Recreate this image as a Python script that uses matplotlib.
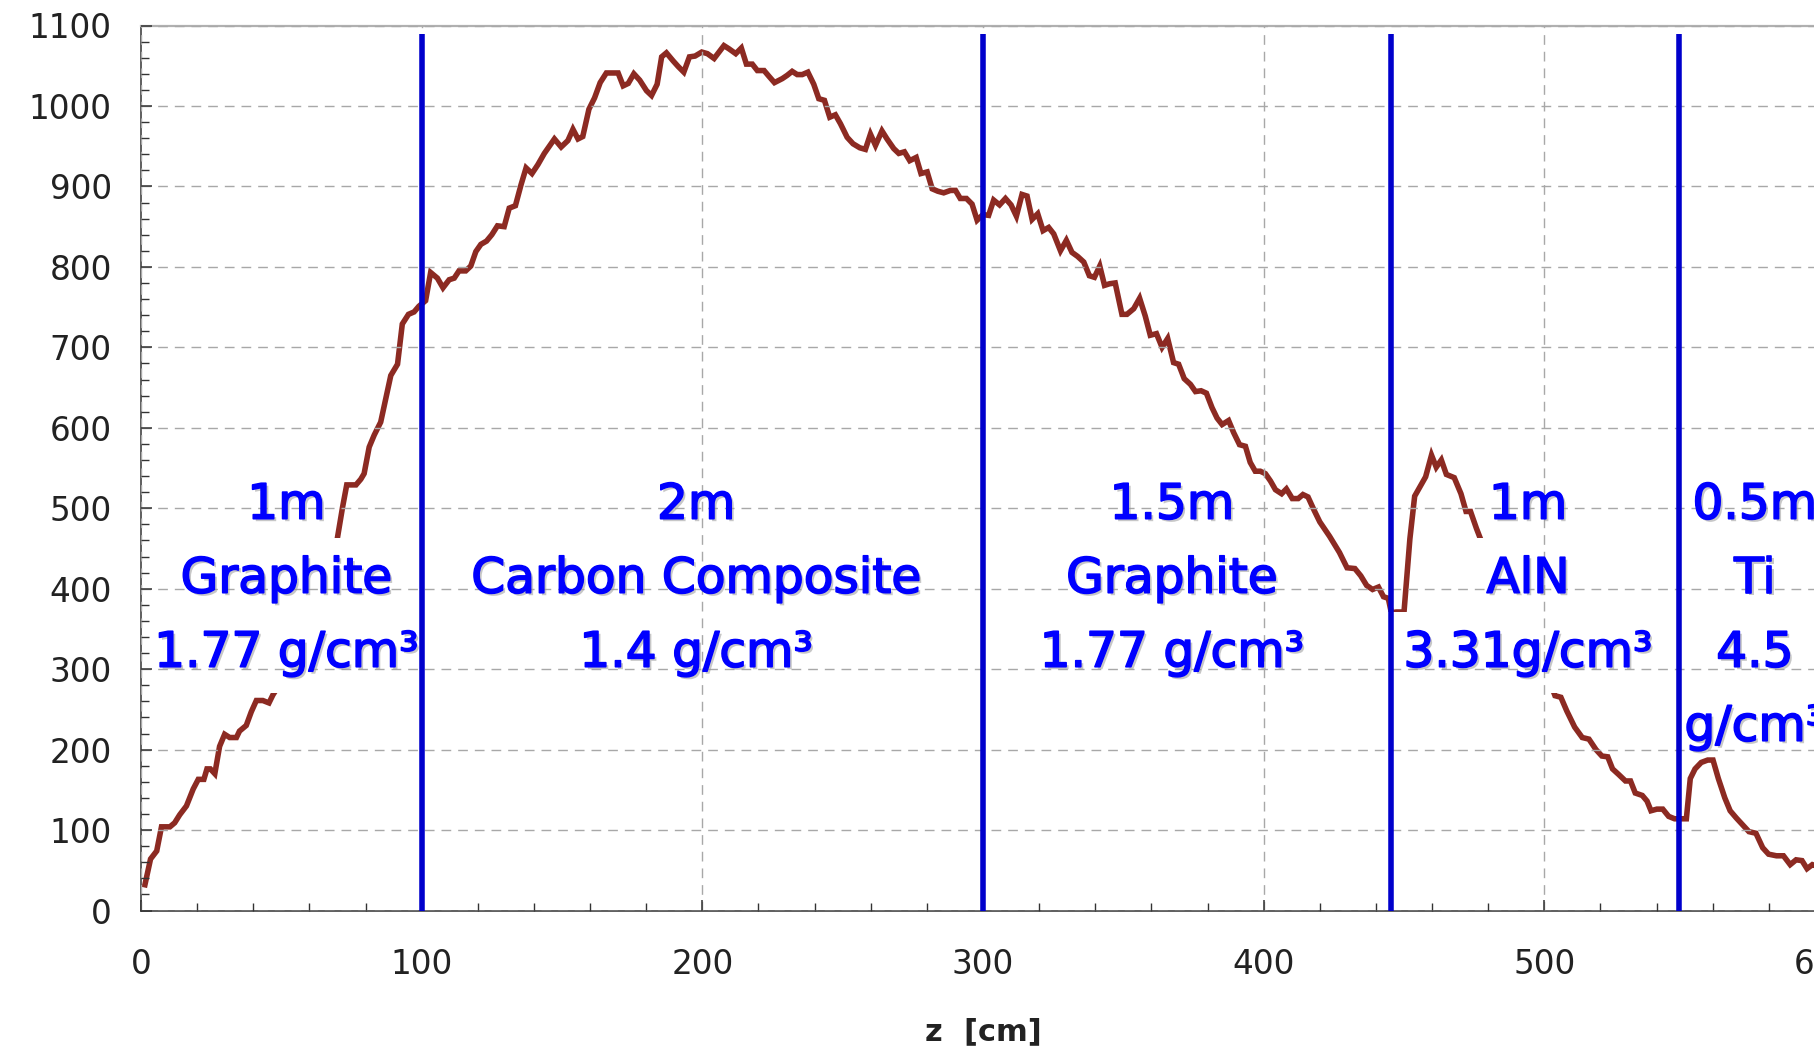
import matplotlib
matplotlib.use('Agg')
import matplotlib.pyplot as plt
from matplotlib.ticker import MultipleLocator
import matplotlib.patheffects as pe

# ---------------- data ----------------
z_cm = [1.4, 3.4, 5.6, 7.3, 10.3, 12, 13.8, 16.2, 18.6, 20.4, 22.4, 23.5, 24.7, 26.3, 28, 29.8,
        31.6, 34, 35.1, 37.5, 39.3, 41.1, 43.4, 45.6, 47, 48.8, 52, 56, 60, 64, 67, 69.5, 71.8,
        73.3, 76.6, 78.3, 79.5, 81.3, 83.1, 85.4, 87.2, 89, 91.4, 93.1, 95.3, 97.3, 99,
        101.4, 103.2, 105.6, 107.6, 109.8, 111.6, 113.3, 115.7, 117.5, 119.3, 121.1, 123.1, 125,
        127, 129.4, 131.2, 133.4, 135.4, 137.2, 139.3, 141.4, 143.7, 147.3, 149.7, 152.1, 153.9,
        155.7, 157.4, 159.6, 161.6, 163.6, 165.8, 168.2, 170, 171.8, 173.6, 175.6, 177.7, 180.1,
        181.9, 183.9, 185.5, 187.2, 189.6, 191.4, 193.4, 195.4, 197.4, 199.8,
        201.8, 204.2, 207.7, 209.5, 211.9, 213.9, 215.7, 217.8, 219.6, 222, 223.7, 225.7, 228.5,
        230.2, 232, 233.8, 235.6, 237.6, 239.7, 241.5, 243.5, 245.4, 247.4, 249.2, 251.6, 253.7,
        256.1, 258.1, 259.9, 261.7, 264, 265.8, 268.2, 270, 272, 273.9, 276.2, 277.9, 280.1,
        281.9, 283.9, 286, 288.4, 290.2, 291.9, 294.1, 296.1, 297.9, 300,
        302, 303.8, 305.9, 308, 310, 311.9, 313.9, 315.7, 317.5, 319.5, 321.4, 323.4, 325.2,
        327.6, 329.7, 331.7, 333.7, 335.9, 337.9, 339.7, 341.6, 343.3, 345.1, 347.1, 349.5,
        351.3, 353.7, 355.8, 357.8, 359.6, 361.8, 363.8, 365.8, 367.9, 369.7, 371.7, 373.9,
        375.7, 377.7, 379.6, 381.6, 383.4, 385.2, 387.5, 389.3, 391.4, 393.5, 395.2, 397,
        398.8, 400.6, 402.4, 404.2, 406.4, 408.1, 410.2, 412.3, 414, 415.8, 417.9, 420, 423.5,
        427, 429.7, 432.5, 434.6, 436.7, 438.8, 440.9, 442.7, 444.4, 445.5, 447.2, 450,
        452.1, 453.8, 455.6, 457.7, 459.8, 461.5, 463.3, 465.1, 467.9, 470.3, 472.1, 473.7,
        475.8, 477.9, 480.4, 485, 490, 495, 499, 502.4, 503.8, 505.9, 508, 510.8, 513.5, 515.9,
        518.4, 520.5, 522.6, 524.3, 526.5, 528.9, 530.7, 532.4, 534.9, 536.6, 538, 540.1, 542.2,
        544.3, 546.4, 548.5, 550.6, 552, 553.7, 555.9, 558.2, 560.1, 562, 564.3, 566.2, 568.4,
        570.8, 572.9, 575.4, 577.8, 579.9, 582.7, 585.2, 587.6, 589.7, 591.8, 593.6, 595.5, 598]
dose = [32, 64, 74, 104, 104, 109, 119, 130, 151, 163, 163, 176, 176, 170, 204, 219,
        215, 215, 223, 230, 247, 261, 261, 258, 268, 278, 300, 335, 372, 410, 440, 453, 501,
        529, 529, 536, 543, 576, 591, 607, 636, 665, 679, 729, 741, 744, 751,
        758, 793, 786, 774, 784, 786, 795, 795, 801, 819, 828, 832, 840,
        851, 850, 873, 876, 902, 923, 916, 927, 941, 959, 949, 957, 971,
        959, 962, 996, 1010, 1029, 1041, 1041, 1041, 1025, 1028, 1040, 1032, 1019,
        1013, 1027, 1061, 1066, 1056, 1049, 1042, 1061, 1062, 1067,
        1065, 1059, 1075, 1071, 1065, 1072, 1052, 1052, 1044, 1044, 1037, 1029, 1034,
        1038, 1043, 1039, 1039, 1042, 1027, 1009, 1007, 986, 989, 978, 961, 953,
        948, 946, 965, 951, 969, 959, 947, 941, 943, 932, 936, 916, 918,
        897, 894, 892, 895, 895, 885, 885, 878, 858, 865,
        864, 883, 877, 885, 877, 863, 890, 888, 859, 866, 845, 849, 841,
        820, 833, 818, 813, 806, 789, 787, 801, 777, 779, 780, 741,
        741, 748, 761, 739, 715, 717, 700, 711, 681, 679, 661, 654,
        645, 646, 643, 625, 612, 604, 609, 594, 579, 577, 557, 546,
        546, 543, 534, 523, 518, 524, 512, 512, 517, 514, 498, 483, 465,
        445, 426, 425, 416, 404, 399, 402, 390, 388, 370, 371, 371,
        462, 515, 526, 539, 566, 551, 560, 542, 538, 518, 496, 496,
        475, 456, 451, 420, 385, 345, 305, 280, 267, 265, 248, 228, 215, 213,
        200, 192, 191, 176, 169, 161, 161, 146, 143, 136, 124, 126, 126,
        117, 114, 114, 114, 164, 176, 184, 187, 187, 164, 140, 124, 115,
        106, 98, 96, 78, 70, 68, 68, 57, 63, 62, 52, 57, 54]

boundaries = [100, 300, 445.5, 548]
x_ticks = [0, 100, 200, 300, 400, 500, 600]
y_ticks = [0, 100, 200, 300, 400, 500, 600, 700, 800, 900, 1000, 1100]

region_x = [51.8, 197.8, 367.3, 494.2, 575]
region_lines = [
    ['1m', 'Graphite', '1.77 g/cm³'],
    ['2m', 'Carbon Composite', '1.4 g/cm³'],
    ['1.5m', 'Graphite', '1.77 g/cm³'],
    ['1m', 'AlN', '3.31g/cm³'],
    ['0.5m', 'Ti', '4.5', 'g/cm³'],
]
region_mask = [True, False, False, True, False]   # blocks whose lower lines hide the curve
line_baselines = [487, 395, 303, 211]

# ---------------- figure ----------------
W, H = 1814, 1051
fig = plt.figure(figsize=(W / 100, H / 100), dpi=100)
ax = fig.add_axes([141 / W, (H - 910.5) / H, 1684 / W, 885 / H])

ax.plot(z_cm, dose, color='#8c2a22', lw=4.0, zorder=1, solid_joinstyle='miter')

ax.vlines(boundaries, 0, 1090, colors='#0000cc', lw=4.0, zorder=2.7)

ax.set_xlim(0, 600)
ax.set_ylim(0, 1100)
ax.set_xticks(x_ticks)
ax.set_yticks(y_ticks)
ax.xaxis.set_minor_locator(MultipleLocator(20))
ax.yaxis.set_minor_locator(MultipleLocator(20))

ax.set_axisbelow(False)
ax.grid(True, which='major', color='#a8a8a8', lw=1.0, ls=(0, (7, 5)))

ax.tick_params(which='both', direction='in', colors='#333333', labelcolor='#222222',
               labelsize=23.5, top=False, right=False)
ax.tick_params(which='major', length=8, width=1.1)
ax.tick_params(which='minor', length=6, width=1.0)
ax.tick_params(axis='y', pad=21)
ax.tick_params(axis='x', pad=27)

for s in ('left', 'bottom'):
    ax.spines[s].set_color('#333333')
    ax.spines[s].set_linewidth(1.1)
ax.spines['top'].set_color('#b0b0b0')
ax.spines['top'].set_linewidth(1.6)
ax.spines['right'].set_visible(False)

ax.set_xlabel('z  [cm]', fontsize=22, fontweight='bold', color='#222222')
ax.xaxis.set_label_coords(0.5, -0.121)

shadow = [pe.withSimplePatchShadow(offset=(1.8, -1.8), shadow_rgbFace='#9a9a9a', alpha=0.55),
          pe.withStroke(linewidth=1.2, foreground='#0000ff'),
          pe.Normal()]
FS = 35
for xc, lines, mask in zip(region_x, region_lines, region_mask):
    for i, (txt, yb) in enumerate(zip(lines, line_baselines)):
        if mask and i > 0:
            ax.text(xc, yb, txt, fontsize=FS, ha='center', va='baseline', color='none',
                    zorder=1.5, bbox=dict(facecolor='white', edgecolor='none', pad=12))
        ax.text(xc, yb, txt, fontsize=FS, ha='center', va='baseline', color='#0000ff',
                zorder=3, path_effects=shadow)

fig.savefig('out.png', dpi=100)
